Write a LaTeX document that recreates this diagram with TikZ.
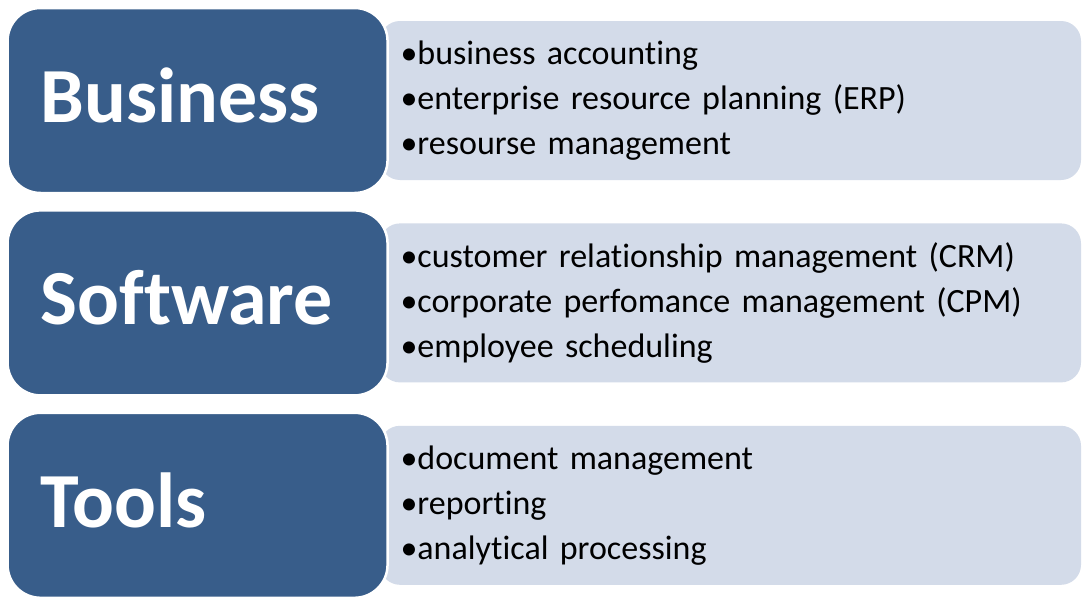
\documentclass[tikz,border=0pt]{standalone}
\usepackage{fontspec}
\setmainfont{Carlito}[Ligatures=NoCommon]
\usetikzlibrary{positioning}
\definecolor{boxBlue}{HTML}{385D8A}
\definecolor{boxPale}{HTML}{D3DBE9}

\begin{document}
\begin{tikzpicture}
  [x=1pt,y=-1pt,
   titleN/.style={rectangle,rounded corners=33pt,fill=boxBlue,draw=white,line width=2.5pt,
     minimum width=380pt,minimum height=185pt,text width=314pt,inner xsep=33pt,
     text height=44pt,text depth=0pt,align=left,text=white,
     font=\fontsize{78}{90}\selectfont\bfseries},
   listN/.style={rectangle,rounded corners=20pt,fill=boxPale,
     minimum width=701pt,minimum height=159pt,text width=660pt,inner xsep=20pt,
     align=left,font=\fontsize{34}{45}\selectfont},
   node distance=43pt]

  \useasboundingbox[fill=white] (0,0) rectangle (1090,605);

  \node[listN] (bizL) at (730.5,100.5)
    {\textbullet business accounting\\
     \textbullet enterprise resource planning (ERP)\\
     \textbullet resourse management};
  \node[titleN] (biz) [left=-9pt of bizL] {Business};

  \node[listN] (softL) [below=of bizL]
    {\textbullet customer relationship management (CRM)\\
     \textbullet corporate perfomance management (CPM)\\
     \textbullet employee scheduling};
  \node[titleN] (soft) [left=-9pt of softL] {Software};

  \node[listN] (toolL) [below=of softL]
    {\textbullet document management\\
     \textbullet reporting\\
     \textbullet analytical processing};
  \node[titleN] (tool) [left=-9pt of toolL] {Tools};
\end{tikzpicture}
\end{document}
